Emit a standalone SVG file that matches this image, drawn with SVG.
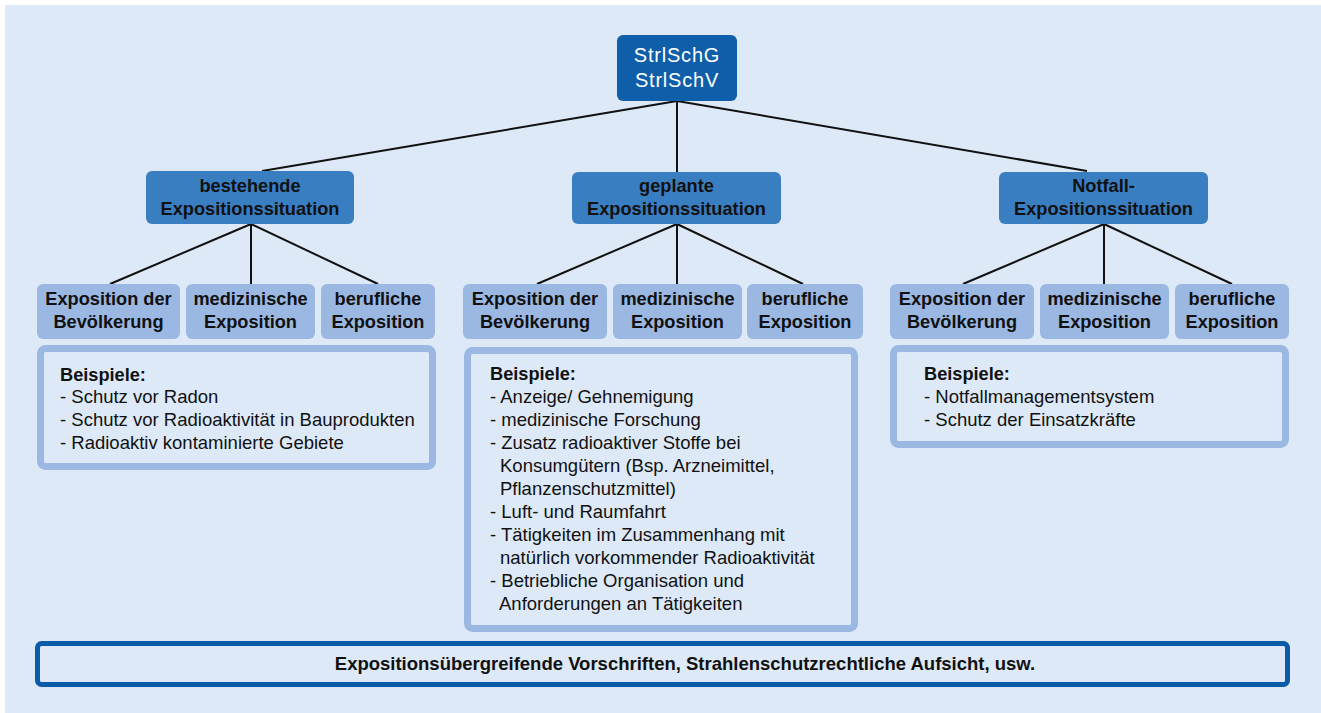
<svg xmlns="http://www.w3.org/2000/svg" width="1321" height="713" viewBox="0 0 1321 713">
<style>
.top{fill:#0e5ea9}
.lvl2{fill:#3a7ec2}
.lvl3{fill:#9bb8e3}
.ex{fill:#dde9f7;stroke:#9bb8e3;stroke-width:7}
.bot{fill:#dde9f7;stroke:#0b5ca8;stroke-width:5}
.conn line{stroke:#111;stroke-width:2}
text{font-family:"Liberation Sans",Arial,sans-serif}
.tw{fill:#fff;font-size:20px;letter-spacing:0.8px;text-anchor:middle}
.tb{fill:#111;font-size:18.2px;font-weight:bold;text-anchor:middle}
.txt{fill:#111;font-size:18.5px}
.txtb{fill:#111;font-size:18.2px;font-weight:bold}
.bt{fill:#111;font-size:18.5px;font-weight:bold;text-anchor:middle}
</style>
<rect x="0" y="0" width="1321" height="713" fill="#ffffff"/>
<rect x="5" y="5" width="1316" height="708" fill="#dde9f7"/>
<g id="connectors" class="conn">
<line x1="677" y1="101" x2="262" y2="171"/>
<line x1="677" y1="101" x2="677" y2="172"/>
<line x1="677" y1="101" x2="1087" y2="171"/>
<line x1="251" y1="224" x2="110" y2="284"/>
<line x1="251" y1="224" x2="251" y2="284"/>
<line x1="251" y1="224" x2="378" y2="284"/>
<line x1="677" y1="224" x2="537" y2="284"/>
<line x1="677" y1="224" x2="677" y2="284"/>
<line x1="677" y1="224" x2="803" y2="284"/>
<line x1="1104" y1="224" x2="963" y2="284"/>
<line x1="1104" y1="224" x2="1104" y2="284"/>
<line x1="1104" y1="224" x2="1232" y2="284"/>
</g>
<g id="root">
<rect class="top" x="617" y="35" width="120" height="66" rx="6"/>
<text class="tw" x="677" y="62">StrlSchG</text>
<text class="tw" x="677" y="87">StrlSchV</text>
</g>
<g id="bestehende">
<rect class="lvl2" x="146" y="171" width="208" height="53" rx="6"/>
<text class="tb" x="250" y="192">bestehende</text>
<text class="tb" x="250" y="215">Expositionssituation</text>
</g>
<g id="geplante">
<rect class="lvl2" x="572" y="172" width="209" height="52" rx="6"/>
<text class="tb" x="676.5" y="192">geplante</text>
<text class="tb" x="676.5" y="215">Expositionssituation</text>
</g>
<g id="notfall">
<rect class="lvl2" x="999" y="172" width="209" height="52" rx="6"/>
<text class="tb" x="1103.5" y="192">Notfall-</text>
<text class="tb" x="1103.5" y="215">Expositionssituation</text>
</g>
<g id="b-bev">
<rect class="lvl3" x="37" y="284" width="143" height="55" rx="6"/>
<text class="tb" x="108.5" y="305">Exposition der</text>
<text class="tb" x="108.5" y="328">Bevölkerung</text>
</g>
<g id="b-med">
<rect class="lvl3" x="186" y="284" width="129" height="55" rx="6"/>
<text class="tb" x="250.5" y="305">medizinische</text>
<text class="tb" x="250.5" y="328">Exposition</text>
</g>
<g id="b-ber">
<rect class="lvl3" x="321" y="284" width="114" height="55" rx="6"/>
<text class="tb" x="378" y="305">berufliche</text>
<text class="tb" x="378" y="328">Exposition</text>
</g>
<g id="g-bev">
<rect class="lvl3" x="463" y="284" width="144" height="55" rx="6"/>
<text class="tb" x="535" y="305">Exposition der</text>
<text class="tb" x="535" y="328">Bevölkerung</text>
</g>
<g id="g-med">
<rect class="lvl3" x="613" y="284" width="129" height="55" rx="6"/>
<text class="tb" x="677.5" y="305">medizinische</text>
<text class="tb" x="677.5" y="328">Exposition</text>
</g>
<g id="g-ber">
<rect class="lvl3" x="747" y="284" width="116" height="55" rx="6"/>
<text class="tb" x="805" y="305">berufliche</text>
<text class="tb" x="805" y="328">Exposition</text>
</g>
<g id="n-bev">
<rect class="lvl3" x="890" y="284" width="144" height="55" rx="6"/>
<text class="tb" x="962" y="305">Exposition der</text>
<text class="tb" x="962" y="328">Bevölkerung</text>
</g>
<g id="n-med">
<rect class="lvl3" x="1040" y="284" width="129" height="55" rx="6"/>
<text class="tb" x="1104.5" y="305">medizinische</text>
<text class="tb" x="1104.5" y="328">Exposition</text>
</g>
<g id="n-ber">
<rect class="lvl3" x="1175" y="284" width="114" height="55" rx="6"/>
<text class="tb" x="1232" y="305">berufliche</text>
<text class="tb" x="1232" y="328">Exposition</text>
</g>
<g id="b-examples">
<rect class="ex" x="40.5" y="348.5" width="392" height="118" rx="5"/>
<text class="txtb" x="60" y="381">Beispiele:</text>
<text class="txt" x="60" y="403">- Schutz vor Radon</text>
<text class="txt" x="60" y="426">- Schutz vor Radioaktivität in Bauprodukten</text>
<text class="txt" x="60" y="449">- Radioaktiv kontaminierte Gebiete</text>
</g>
<g id="g-examples">
<rect class="ex" x="467.5" y="350.5" width="387" height="278" rx="5"/>
<text class="txtb" x="490" y="380">Beispiele:</text>
<text class="txt" x="490" y="403">- Anzeige/ Gehnemigung</text>
<text class="txt" x="490" y="426">- medizinische Forschung</text>
<text class="txt" x="490" y="449">- Zusatz radioaktiver Stoffe bei</text>
<text class="txt" x="500" y="472">Konsumgütern (Bsp. Arzneimittel,</text>
<text class="txt" x="500" y="495">Pflanzenschutzmittel)</text>
<text class="txt" x="490" y="518">- Luft- und Raumfahrt</text>
<text class="txt" x="490" y="541">- Tätigkeiten im Zusammenhang mit</text>
<text class="txt" x="500" y="564">natürlich vorkommender Radioaktivität</text>
<text class="txt" x="490" y="587">- Betriebliche Organisation und</text>
<text class="txt" x="499" y="610">Anforderungen an Tätigkeiten</text>
</g>
<g id="n-examples">
<rect class="ex" x="893.5" y="348.5" width="392" height="96" rx="5"/>
<text class="txtb" x="924" y="380">Beispiele:</text>
<text class="txt" x="924" y="403">- Notfallmanagementsystem</text>
<text class="txt" x="924" y="426">- Schutz der Einsatzkräfte</text>
</g>
<g id="general">
<rect class="bot" x="37.5" y="643.5" width="1250" height="41" rx="4"/>
<text class="bt" x="685" y="670">Expositionsübergreifende Vorschriften, Strahlenschutzrechtliche Aufsicht, usw.</text>
</g>
</svg>
